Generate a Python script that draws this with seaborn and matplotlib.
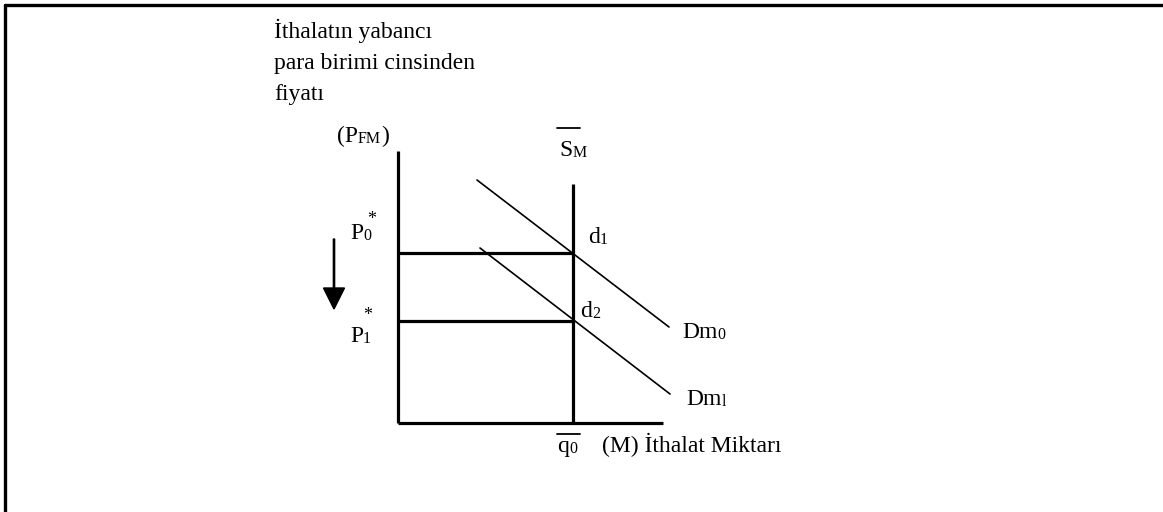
import numpy as np
import pandas as pd
import matplotlib
matplotlib.use('Agg')
import matplotlib.pyplot as plt
import seaborn as sns
from matplotlib.lines import Line2D

# diagram units: origin at the corner of the axes, 1 unit = 25 px
q0 = 7.0                 # fixed import supply (vertical S_M)
q_axis_end = 10.6
p_axis_top = 10.9
s_top = 9.56
p0_star = 6.8
p1_star = 4.08

curve_names = ["Dm0", "Dm0", "Dm1", "Dm1"]
curve_q = [3.16, 10.84, 3.28, 10.88]
curve_p = [9.72, 3.84, 7.0, 1.16]

title_lines = ["İthalatın yabancı", "para birimi cinsinden", "fiyatı"]

sns.set_theme(style="white")
plt.rcParams['font.family'] = ['Liberation Serif', 'DejaVu Serif']
plt.rcParams['text.color'] = 'black'

fig = plt.figure(figsize=(11.63, 5.12), dpi=100)
ax = fig.add_axes([0, 0, 1, 1])
ax.set_xlim(-398 / 25, (1163 - 398) / 25)
ax.set_ylim((423 - 512) / 25, 423 / 25)
ax.axis('off')

# outer frame (top and left only)
fig.add_artist(Line2D([5 / 1163, 1], [1 - 5 / 512, 1 - 5 / 512], color='black', lw=2.4))
fig.add_artist(Line2D([5 / 1163, 5 / 1163], [0, 1 - 5 / 512], color='black', lw=2.4))

thick = 2.3
# axes of the diagram
ax.plot([0, 0], [0, p_axis_top], color='black', lw=thick, solid_capstyle='butt')
ax.plot([0, q_axis_end], [0, 0], color='black', lw=thick, solid_capstyle='butt')
# supply line and price guides
ax.plot([q0, q0], [0, s_top], color='black', lw=thick, solid_capstyle='butt')
ax.plot([0, q0], [p0_star, p0_star], color='black', lw=thick, solid_capstyle='butt')
ax.plot([0, q0], [p1_star, p1_star], color='black', lw=thick, solid_capstyle='butt')

# demand curves
df = pd.DataFrame({"curve": curve_names, "q": curve_q, "p": curve_p})
sns.lineplot(data=df, x="q", y="p", units="curve", estimator=None, sort=False,
             color='black', lw=1.2, ax=ax, legend=False)
ax.set_xlabel('')
ax.set_ylabel('')
ax.set_xlim(-398 / 25, (1163 - 398) / 25)
ax.set_ylim((423 - 512) / 25, 423 / 25)

# price fall arrow
ax.arrow(-2.56, 7.36, 0, -2.8, width=0.05, head_width=0.84, head_length=0.84,
         length_includes_head=True, color='black')

big = 17
small = 11.5


def label(x, y, main, sub=None):
    t = ax.text(x, y, main, fontsize=big, va='baseline', ha='left', color='black')
    last = t
    if sub:
        last = ax.annotate(sub, xy=(1, 0), xycoords=t, fontsize=small,
                           va='bottom', ha='left', color='black')
    return t, last


for i, line in enumerate(title_lines):
    ax.text(-4.96, 15.4 - i * 1.24, line, fontsize=big, va='baseline', ha='left',
            color='black')

t, s = label(-2.44, 11.24, "(P", "FM")
ax.annotate(")", xy=(1, 0), xycoords=s, fontsize=big, va='bottom', ha='left',
            color='black')

label(6.44, 10.68, "S", "M")
ax.plot([6.36, 7.28], [11.8, 11.8], color='black', lw=1.3)

label(-1.92, 7.36, "P", "0")
ax.text(-1.04, 7.98, "*", fontsize=13, ha='center', va='baseline', color='black')
label(-1.92, 3.24, "P", "1")
ax.text(-1.2, 4.1, "*", fontsize=13, ha='center', va='baseline', color='black')
label(7.6, 7.2, "d", "1")
label(7.28, 4.24, "d", "2")
label(11.36, 3.4, "Dm", "0")
label(11.52, 0.72, "Dm", "l")
label(6.36, -1.16, "q", "0")
ax.plot([6.36, 7.28], [-0.44, -0.44], color='black', lw=1.3)
ax.text(8.16, -1.16, "(M) İthalat Miktarı", fontsize=big, va='baseline', ha='left',
        color='black')

fig.savefig('out.png', dpi=100)
